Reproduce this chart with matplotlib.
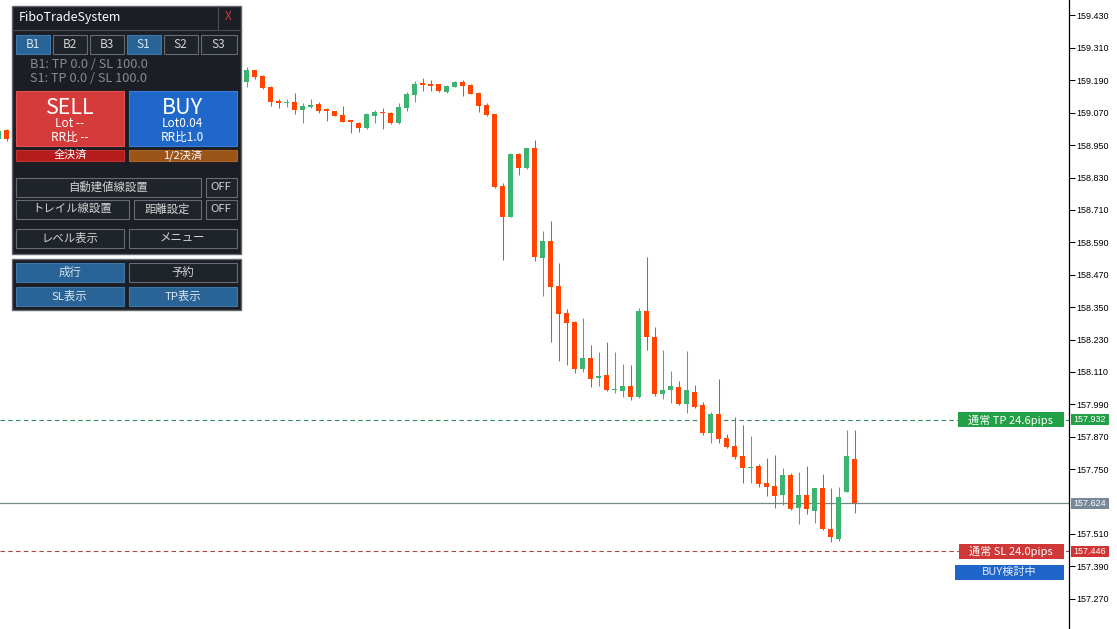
import matplotlib
matplotlib.use('Agg')
import matplotlib.pyplot as plt
from matplotlib.patches import Rectangle

# ---------------- data ----------------
bar_index = [-31, -30] + list(range(77))
opens = [158.973, 159.006,
         159.185, 159.228, 159.207, 159.166, 159.114, 159.106, 159.111, 159.080, 159.092, 159.101,
         159.083, 159.076, 159.062, 159.042, 159.033, 159.012, 159.059, 159.074, 159.070, 159.031,
         159.089, 159.137, 159.180, 159.176, 159.176, 159.148, 159.166, 159.183, 159.173, 159.144,
         159.099, 159.065, 158.799, 158.685, 158.917, 158.864, 158.938, 158.533, 158.595, 158.428,
         158.329, 158.295, 158.122, 158.162, 158.086, 158.099, 158.043, 158.040, 158.058, 158.018,
         158.336, 158.241, 158.028, 158.043, 158.054, 157.993, 158.036, 157.987, 157.885, 157.954,
         157.865, 157.836, 157.799, 157.755, 157.762, 157.697, 157.687, 157.655, 157.728, 157.606,
         157.654, 157.596, 157.680, 157.528, 157.491, 157.666, 157.787]
highs = [159.010, 159.011,
         159.238, 159.230, 159.209, 159.170, 159.121, 159.120, 159.144, 159.107, 159.120, 159.109,
         159.089, 159.078, 159.095, 159.043, 159.034, 159.070, 159.080, 159.086, 159.072, 159.105,
         159.148, 159.189, 159.197, 159.191, 159.177, 159.173, 159.187, 159.191, 159.175, 159.148,
         159.105, 159.067, 158.809, 158.920, 158.920, 158.939, 158.969, 158.632, 158.669, 158.514,
         158.343, 158.297, 158.310, 158.210, 158.184, 158.221, 158.184, 158.139, 158.136, 158.346,
         158.537, 158.277, 158.191, 158.113, 158.076, 158.187, 158.062, 157.999, 157.963, 158.084,
         157.880, 157.942, 157.913, 157.873, 157.769, 157.792, 157.802, 157.754, 157.734, 157.739,
         157.762, 157.680, 157.732, 157.680, 157.685, 157.895, 157.895]
lows = [158.969, 158.967,
        159.166, 159.196, 159.159, 159.096, 159.089, 159.092, 159.064, 159.033, 159.086, 159.070,
        159.039, 159.058, 159.036, 158.994, 158.999, 159.010, 159.031, 159.010, 159.028, 159.029,
        159.077, 159.110, 159.151, 159.151, 159.148, 159.144, 159.164, 159.133, 159.138, 159.074,
        159.059, 158.790, 158.524, 158.685, 158.839, 158.862, 158.522, 158.391, 158.222, 158.152,
        158.136, 158.105, 158.111, 158.055, 158.058, 158.041, 158.031, 158.018, 158.006, 158.014,
        158.191, 158.022, 158.009, 157.996, 157.987, 157.959, 157.975, 157.876, 157.846, 157.848,
        157.827, 157.789, 157.700, 157.700, 157.683, 157.650, 157.605, 157.617, 157.597, 157.546,
        157.583, 157.552, 157.526, 157.481, 157.483, 157.665, 157.589]
closes = [159.002, 158.972,
          159.228, 159.203, 159.163, 159.111, 159.107, 159.109, 159.080, 159.095, 159.100, 159.077,
          159.075, 159.059, 159.037, 159.034, 159.012, 159.064, 159.074, 159.068, 159.031, 159.092,
          159.139, 159.176, 159.174, 159.170, 159.151, 159.169, 159.183, 159.169, 159.140, 159.096,
          159.062, 158.794, 158.685, 158.917, 158.866, 158.938, 158.537, 158.595, 158.426, 158.326,
          158.292, 158.122, 158.162, 158.084, 158.096, 158.043, 158.047, 158.058, 158.018, 158.336,
          158.241, 158.028, 158.043, 158.058, 157.991, 158.043, 157.981, 157.885, 157.954, 157.863,
          157.833, 157.796, 157.755, 157.759, 157.695, 157.685, 157.650, 157.728, 157.602, 157.654,
          157.602, 157.680, 157.527, 157.500, 157.647, 157.799, 157.624]

# 157.630 is hidden behind the current-price label in the reference
y_ticks = [157.270, 157.390, 157.510, 157.750, 157.870, 157.990, 158.110, 158.230,
           158.350, 158.470, 158.590, 158.710, 158.830, 158.950, 159.070, 159.190, 159.310, 159.430]
tp_price = 157.932
sl_price = 157.446
current_price = closes[-1]
tp_label = '通常 TP 24.6pips'
sl_label = '通常 SL 24.0pips'
status_label = 'BUY検討中'

panel_title = 'FiboTradeSystem'
tab_labels = ['B1', 'B2', 'B3', 'S1', 'S2', 'S3']
tab_active = ['B1', 'S1']
info_lines = ['B1: TP 0.0 / SL 100.0', 'S1: TP 0.0 / SL 100.0']

# ---------------- figure ----------------
W, H = 1117, 629
fig = plt.figure(figsize=(W / 100, H / 100), dpi=100)
fig.patch.set_facecolor('white')
AXR = 1069
ax = fig.add_axes([0, 0, AXR / W, 1])
ax.set_xlim(-30.8125, 102.8125)
ax.set_ylim(157.158, 159.4874)

GREEN = '#3cb371'
ORANGE = '#ff4500'
min_body = 0.0037
for x, o, h, l, c in zip(bar_index, opens, highs, lows, closes):
    col = GREEN if c >= o else ORANGE
    ax.vlines(x, l, h, color=col, lw=0.75, zorder=3)
    body = max(abs(c - o), min_body)
    ax.bar(x, body, bottom=min(o, c), width=0.625, color=col, lw=0, zorder=4)

ax.axhline(tp_price, color='#2e8b57', lw=0.8, ls=(0, (4, 3)), zorder=2)
ax.axhline(sl_price, color='#a84343', lw=0.8, ls=(0, (4, 3)), zorder=2)
ax.axhline(current_price, color='#6f8a87', lw=0.9, zorder=2)

for s in ['left', 'top', 'bottom']:
    ax.spines[s].set_visible(False)
ax.spines['right'].set_color('black')
ax.spines['right'].set_linewidth(0.9)
ax.set_xticks([])
ax.yaxis.tick_right()
ax.set_yticks(y_ticks)
ax.set_yticklabels([f'{v:.3f}' for v in y_ticks], family='Liberation Sans')
ax.tick_params(axis='y', direction='out', length=4, width=0.75, labelsize=6.5, pad=1.5,
               colors='black')

# ---------------- overlay (pixel coordinates) ----------------
ov = fig.add_axes([0, 0, 1, 1])
ov.set_xlim(0, W)
ov.set_ylim(H, 0)
ov.axis('off')
ov.patch.set_alpha(0)

JP = ['Noto Sans CJK JP', 'DejaVu Sans']


def ypix(p):
    return H - ax.transData.transform((0, p))[1]


def box(x0, y0, x1, y1, fc, ec='none', lw=0.8):
    ov.add_patch(Rectangle((x0, y0), x1 - x0, y1 - y0, facecolor=fc, edgecolor=ec,
                           linewidth=lw, zorder=5))


def txt(x, y, s, size, color, ha='center', fam=JP):
    ov.text(x, y, s, fontsize=size, color=color, ha=ha, va='center', family=fam, zorder=6)


# right side labels
ytp = ypix(tp_price)
ysl = ypix(sl_price)
ycp = ypix(current_price)
box(957.5, ytp - 7.5, 1064, ytp + 7.5, '#22a045')
txt(1010.5, ytp, tp_label, 8, 'white')
box(958.5, ysl - 7.5, 1064, ysl + 7.5, '#d03838')
txt(1011, ysl, sl_label, 8, 'white')
box(954.5, ysl + 13.5, 1064, ysl + 28.5, '#1f64c8')
txt(1009, ysl + 21, status_label, 8, '#e4ecff')

for p, fc in [(tp_price, '#22a045'), (current_price, '#778899'), (sl_price, '#cf3535')]:
    yy = ypix(p)
    box(1070.5, yy - 5.5, 1109, yy + 5.5, fc)
    txt(1073, yy, f'{p:.3f}', 6.5, 'white', ha='left', fam=['Liberation Sans'])

# panel
PANEL_BG = '#1b1e24'
PANEL_EDGE = '#62666e'
BTN_BG = '#1f232a'
BTN_EDGE = '#676b73'
BLUE_BTN = '#2a6496'
DARK_TXT = '#d4d4d4'
BLUE_TXT = '#dbe6f2'

box(11.5, 5.5, 240.5, 253.5, PANEL_BG, PANEL_EDGE, 1.0)
ov.plot([11.5, 240.5], [29.5, 29.5], color='#4a4e56', lw=0.8, zorder=6)
ov.plot([217.5, 217.5], [5.5, 29.5], color='#4a4e56', lw=0.8, zorder=6)
txt(19, 17.5, panel_title, 9, 'white', ha='left')
txt(228.5, 17, 'X', 8.5, '#d03a3a')

tab_x = [(15.5, 49.5), (52.5, 86.5), (89.5, 123.5), (126.5, 160.5), (163.5, 197.5), (200.5, 236.5)]
for (x0, x1), lab in zip(tab_x, tab_labels):
    if lab in tab_active:
        box(x0, 34.5, x1, 53.5, BLUE_BTN, '#3f77a8')
        txt((x0 + x1) / 2, 44, lab, 8.5, BLUE_TXT)
    else:
        box(x0, 34.5, x1, 53.5, BTN_BG, BTN_EDGE)
        txt((x0 + x1) / 2, 44, lab, 8.5, DARK_TXT)

txt(30, 64, info_lines[0], 9.2, '#868a92', ha='left')
txt(30, 78.5, info_lines[1], 9.2, '#868a92', ha='left')

box(15.5, 90.5, 124, 145.5, '#d63b3b', '#e05050')
txt(70, 107.5, 'SELL', 15.5, 'white')
txt(70, 123.5, 'Lot --', 8.5, 'white')
txt(70, 137, 'RR比 --', 8.5, 'white')
box(128.5, 90.5, 236.5, 145.5, '#1f67c9', '#3a7cd6')
txt(182.5, 107.5, 'BUY', 15.5, 'white')
txt(182.5, 123.5, 'Lot0.04', 8.5, 'white')
txt(182.5, 137, 'RR比1.0', 8.5, 'white')

box(15.5, 149.5, 124, 160.5, '#b51d1d', '#c23030')
txt(70, 155, '全決済', 8, 'white')
box(128.5, 149.5, 236.5, 160.5, '#9b5519', '#a8652a')
txt(182.5, 155, '1/2決済', 8, 'white')

dark_buttons = [((15.5, 177.5, 200.5, 196.5), '自動建値線設置'),
                ((205.5, 177.5, 236.5, 196.5), 'OFF'),
                ((15.5, 199.5, 128.5, 218.5), 'トレイル線設置'),
                ((133.5, 199.5, 200.5, 218.5), '距離設定'),
                ((205.5, 199.5, 236.5, 218.5), 'OFF'),
                ((15.5, 228.5, 123.5, 247.5), 'レベル表示'),
                ((128.5, 228.5, 236.5, 247.5), 'メニュー')]
for (x0, y0, x1, y1), lab in dark_buttons:
    box(x0, y0, x1, y1, BTN_BG, BTN_EDGE)
    txt((x0 + x1) / 2, (y0 + y1) / 2, lab, 8.2, DARK_TXT)

box(11.5, 258.5, 240.5, 309.5, PANEL_BG, PANEL_EDGE, 1.0)
lower_buttons = [((15.5, 262.5, 123.5, 281.5), '成行', True),
                 ((128.5, 262.5, 236.5, 281.5), '予約', False),
                 ((15.5, 286.5, 123.5, 305.5), 'SL表示', True),
                 ((128.5, 286.5, 236.5, 305.5), 'TP表示', True)]
for (x0, y0, x1, y1), lab, blue in lower_buttons:
    if blue:
        box(x0, y0, x1, y1, BLUE_BTN, '#3f77a8')
        txt((x0 + x1) / 2, (y0 + y1) / 2, lab, 8.2, BLUE_TXT)
    else:
        box(x0, y0, x1, y1, BTN_BG, BTN_EDGE)
        txt((x0 + x1) / 2, (y0 + y1) / 2, lab, 8.2, DARK_TXT)

fig.savefig('out.png', dpi=100, facecolor='white')
